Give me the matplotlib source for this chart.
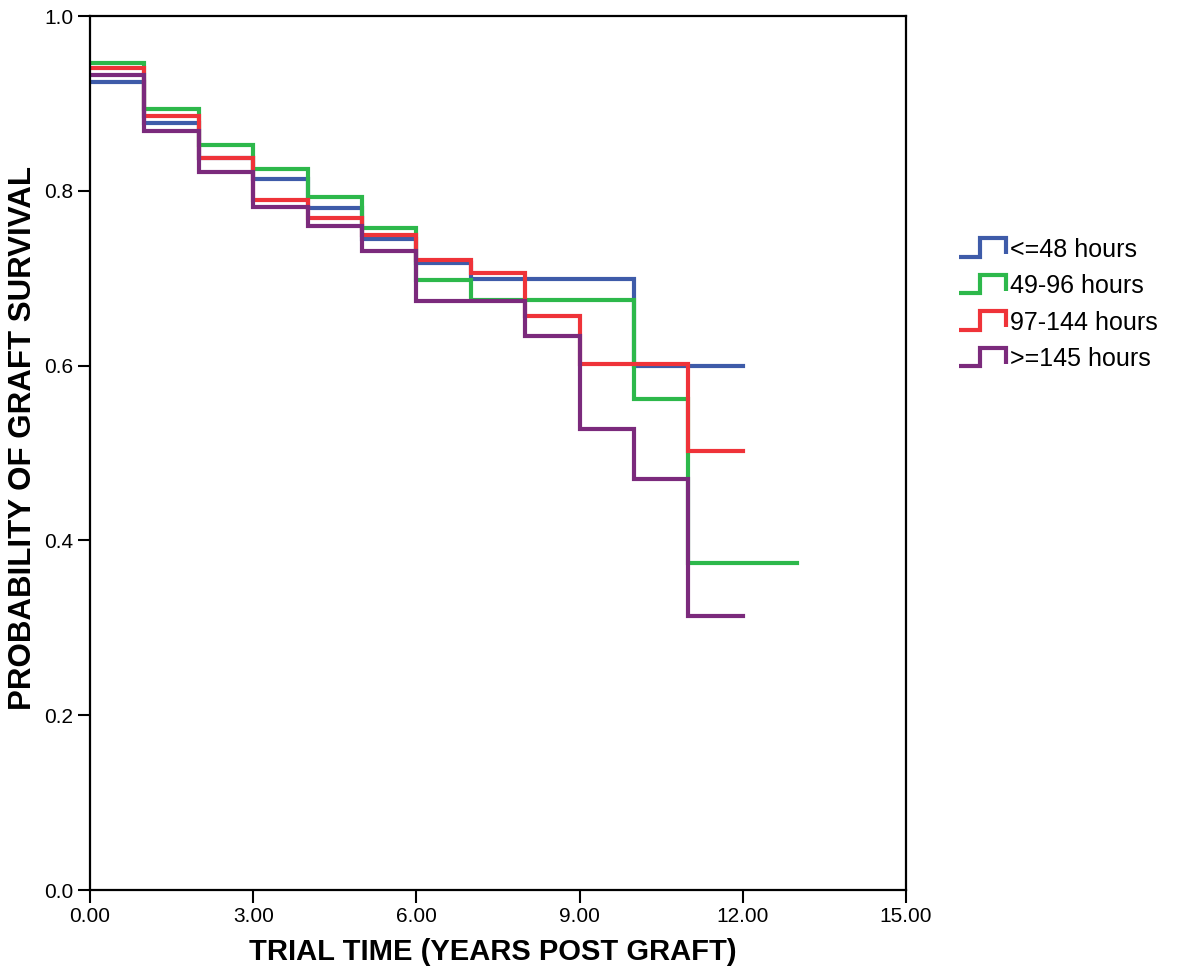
import matplotlib
matplotlib.use("Agg")
import matplotlib.pyplot as plt
from matplotlib.legend_handler import HandlerBase
from matplotlib.lines import Line2D

plt.rcParams['font.family'] = ['Liberation Sans', 'DejaVu Sans']

# step start times (years) and survival after each step
times_le48 = [0, 1, 2, 3, 4, 5, 6, 7, 10, 12]
surv_le48 = [0.924, 0.878, 0.838, 0.813, 0.780, 0.745, 0.717, 0.699, 0.599, 0.599]

times_49_96 = [0, 1, 2, 3, 4, 5, 6, 7, 10, 11, 13]
surv_49_96 = [0.946, 0.894, 0.852, 0.825, 0.793, 0.757, 0.698, 0.675, 0.562, 0.374, 0.374]

times_97_144 = [0, 1, 2, 3, 4, 5, 6, 7, 8, 9, 11, 12]
surv_97_144 = [0.941, 0.886, 0.837, 0.790, 0.769, 0.749, 0.721, 0.706, 0.657, 0.602, 0.502, 0.502]

times_ge145 = [0, 1, 2, 3, 4, 5, 6, 8, 9, 10, 11, 12]
surv_ge145 = [0.933, 0.868, 0.822, 0.782, 0.760, 0.731, 0.674, 0.634, 0.528, 0.470, 0.313, 0.313]

labels = ["<=48 hours", "49-96 hours", "97-144 hours", ">=145 hours"]
colors = ["#3e5ba9", "#2db84b", "#ef3339", "#7b2a7c"]


class StepHandler(HandlerBase):
    """legend key drawn as a little step, like the SPSS one"""
    def create_artists(self, legend, orig_handle, xdescent, ydescent,
                       width, height, fontsize, trans):
        x0 = -xdescent
        y0 = -ydescent
        xs = [x0, x0 + width * 0.45, x0 + width * 0.45, x0 + width, x0 + width]
        ys = [y0, y0, y0 + height * 1.05, y0 + height * 1.05, y0 + height * 0.15]
        line = Line2D(xs, ys, color=orig_handle.get_color(),
                      lw=orig_handle.get_linewidth(),
                      solid_joinstyle='miter', solid_capstyle='butt')
        line.set_transform(trans)
        return [line]


fig = plt.figure(figsize=(11.82, 9.71), dpi=100)
ax = fig.add_axes([90 / 1182, 81 / 971, 816 / 1182, 874 / 971])

series = [(times_le48, surv_le48), (times_49_96, surv_49_96),
          (times_97_144, surv_97_144), (times_ge145, surv_ge145)]
handles = []
for (t, s), lab, col in zip(series, labels, colors):
    h, = ax.step(t, s, where='post', color=col, lw=3, label=lab,
                 solid_joinstyle='miter')
    handles.append(h)

ax.set_xlim(0, 15)
ax.set_ylim(0, 1.0)
ax.set_xticks([0, 3, 6, 9, 12, 15])
ax.set_xticklabels(["0.00", "3.00", "6.00", "9.00", "12.00", "15.00"])
ax.set_yticks([0, 0.2, 0.4, 0.6, 0.8, 1.0])
ax.set_yticklabels(["0.0", "0.2", "0.4", "0.6", "0.8", "1.0"])
ax.tick_params(direction='out', length=9, width=1.5, labelsize=15, pad=3)
for sp in ax.spines.values():
    sp.set_linewidth(1.6)

ax.set_xlabel("TRIAL TIME (YEARS POST GRAFT)", fontsize=21, fontweight='bold')
ax.set_ylabel("PROBABILITY OF GRAFT SURVIVAL", fontsize=22.5, fontweight='bold')
ax.xaxis.set_label_coords(0.494, -0.055)
ax.yaxis.set_label_coords(-0.064, 0.517)

ax.legend(handles=handles, labels=labels, handler_map={Line2D: StepHandler()},
          loc='center left', bbox_to_anchor=(1.037, 0.67), frameon=False,
          fontsize=18, handlelength=1.9, handletextpad=0.15, labelspacing=0.5)

fig.savefig("out.png", dpi=100)
